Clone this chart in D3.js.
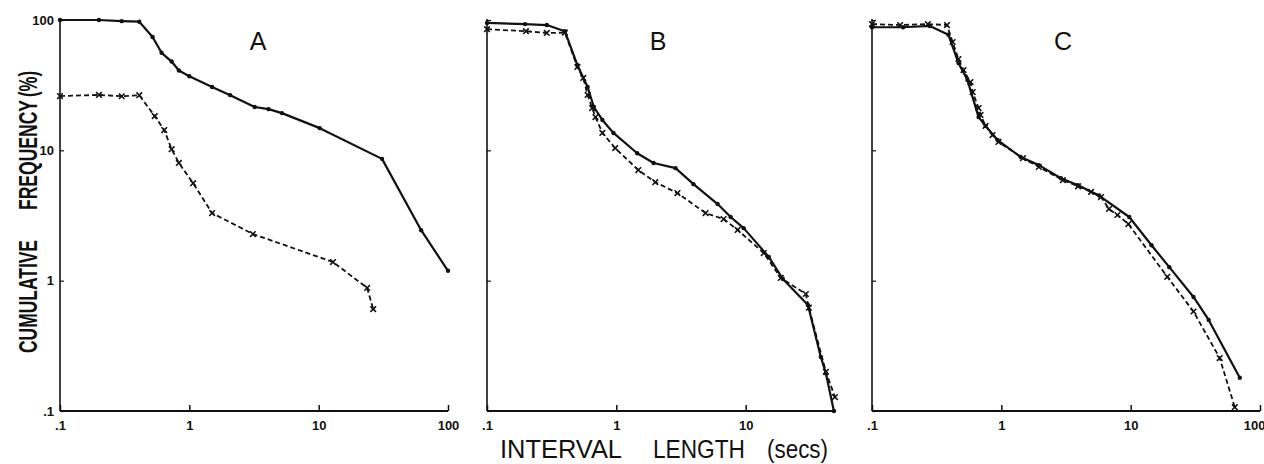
<!DOCTYPE html>
<html>
<head>
<meta charset="utf-8">
<script src="https://cdn.jsdelivr.net/npm/d3@7"></script>
<style>
  body { margin: 0; background: #fff; }
  svg { display: block; }
  text { font-family: "Liberation Sans", Arial, sans-serif; fill: #111; }
</style>
</head>
<body>
<svg id="chart" width="1264" height="464"></svg>
<script>
// ---- data (x: interval length in secs, y: cumulative frequency %) ----
const panelNames = ["A", "B", "C"];

const aSolidX = [0.1, 0.2, 0.3, 0.41, 0.52, 0.61, 0.73, 0.83, 1.0, 1.5, 2.07, 3.2, 4.1, 5.2, 10.2, 30.9, 62, 100];
const aSolidY = [100, 100, 98, 97, 74, 56, 48, 41, 37, 30.6, 26.5, 21.5, 20.7, 19.3, 14.8, 8.6, 2.44, 1.19];
const aDashX  = [0.1, 0.2, 0.3, 0.41, 0.54, 0.64, 0.73, 0.83, 1.07, 1.5, 3.1, 12.9, 23.7, 26.4];
const aDashY  = [26.1, 26.6, 26, 26.5, 18.3, 14.3, 10.2, 8.0, 5.6, 3.3, 2.28, 1.39, 0.88, 0.605];

const bSolidX = [0.1, 0.197, 0.29, 0.40, 0.50, 0.60, 0.67, 0.78, 0.95, 1.45, 1.94, 2.87, 3.95, 6.07, 7.65, 9.65, 15.1, 19.4, 30.3, 38.1, 41.7, 48.1];
const bSolidY = [95, 93, 91.5, 82, 45, 30.6, 21.5, 17.1, 13.6, 9.5, 8.0, 7.3, 5.5, 3.87, 3.08, 2.53, 1.52, 1.03, 0.65, 0.26, 0.195, 0.1];
const bDashX  = [0.1, 0.2, 0.29, 0.40, 0.50, 0.555, 0.6, 0.65, 0.69, 0.78, 0.98, 1.48, 2.0, 2.97, 4.9, 6.75, 8.67, 13.8, 18.7, 29.2, 30.8, 41.7, 49];
const bDashY  = [85, 82, 79.5, 80, 43.6, 35.9, 26.6, 21.1, 18, 13.6, 10.4, 7.06, 5.7, 4.7, 3.3, 2.97, 2.45, 1.63, 1.05, 0.79, 0.62, 0.2, 0.128];

const cSolidX = [0.1, 0.174, 0.28, 0.39, 0.466, 0.547, 0.667, 0.755, 0.936, 1.41, 1.95, 2.89, 3.92, 5.7, 9.75, 14.5, 19.9, 30.6, 40.1, 69.8];
const cSolidY = [88, 88, 90, 77, 46.8, 34.6, 18, 15.4, 12, 8.9, 7.7, 6.1, 5.4, 4.5, 3.08, 1.87, 1.27, 0.75, 0.5, 0.18];
const cDashX  = [0.1, 0.165, 0.27, 0.38, 0.42, 0.466, 0.51, 0.577, 0.6, 0.667, 0.69, 0.755, 0.855, 0.95, 1.47, 1.95, 2.99, 3.92, 4.94, 5.9, 6.8, 7.9, 9.6, 19.2, 30.6, 48.8, 63.8];
const cDashY  = [93, 91.5, 93, 91.5, 67.8, 50.2, 41.3, 33.4, 28, 21.1, 18.7, 15.4, 13.1, 11.6, 8.7, 7.45, 5.9, 5.3, 4.8, 4.38, 3.55, 3.19, 2.72, 1.07, 0.58, 0.255, 0.107];

const xTickValues = [[0.1, 1, 10, 100], [0.1, 1, 10], [0.1, 1, 10, 100]];
const xTickLabels = [".1", "1", "10", "100"];
const yTickValues = [0.1, 1, 10, 100];
const yTickLabels = [".1", "1", "10", "100"];
const xAxisEnd = [100, 50, 100];

const solidX = [aSolidX, bSolidX, cSolidX];
const solidY = [aSolidY, bSolidY, cSolidY];
const dashX = [aDashX, bDashX, cDashX];
const dashY = [aDashY, bDashY, cDashY];

// ---- layout ----
const svg = d3.select("#chart");
const panelLeft = [60, 487, 872];
const panelWidth = 388;
const yTop = 20, yBottom = 411;
const titleX = [258, 658, 1063];

const labelFor = (vals, labels) => v => labels[vals.indexOf(v)];

panelNames.forEach((name, i) => {
  const x = d3.scaleLog().domain([0.1, 100]).range([panelLeft[i], panelLeft[i] + panelWidth]);
  const y = d3.scaleLog().domain([0.1, 100]).range([yBottom, yTop]);
  const g = svg.append("g");

  // x axis
  const xAxis = d3.axisBottom(x)
    .tickValues(xTickValues[i])
    .tickFormat(labelFor([0.1, 1, 10, 100], xTickLabels))
    .tickSizeInner(-6).tickSizeOuter(0).tickPadding(10);
  const gx = g.append("g").attr("transform", `translate(0,${yBottom})`).call(xAxis);
  gx.select(".domain").remove();
  gx.selectAll(".tick line").attr("stroke", "#111").attr("stroke-width", 1.5);
  gx.selectAll(".tick text").attr("font-size", 13).attr("font-weight", "bold").attr("fill", "#111");
  // keep the right-most label of the last panel inside the page
  gx.selectAll(".tick text").filter(d => x(d) + 12 > 1264).attr("text-anchor", "end").attr("dx", 5);
  g.append("line")
    .attr("x1", x(0.1)).attr("x2", x(xAxisEnd[i]))
    .attr("y1", yBottom).attr("y2", yBottom)
    .attr("stroke", "#111").attr("stroke-width", 2);

  // y axis
  const yAxis = d3.axisLeft(y)
    .tickValues(yTickValues)
    .tickFormat(i === 0 ? labelFor(yTickValues, yTickLabels) : () => "")
    .tickSizeInner(-4).tickSizeOuter(0).tickPadding(6);
  const gy = g.append("g").attr("transform", `translate(${panelLeft[i]},0)`).call(yAxis);
  gy.select(".domain").remove();
  gy.selectAll(".tick line").attr("stroke", "#111").attr("stroke-width", 1.2);
  gy.selectAll(".tick text").attr("font-size", 13).attr("font-weight", "bold").attr("fill", "#111");
  g.append("line")
    .attr("x1", panelLeft[i]).attr("x2", panelLeft[i])
    .attr("y1", y(100) - (i === 0 ? 0 : 1)).attr("y2", yBottom)
    .attr("stroke", "#111").attr("stroke-width", 1.6);

  // lines
  const line = d3.line().x(d => x(d[0])).y(d => y(d[1]));
  const sData = d3.zip(solidX[i], solidY[i]);
  const dData = d3.zip(dashX[i], dashY[i]);

  g.append("path").datum(dData).attr("d", line)
    .attr("fill", "none").attr("stroke", "#111").attr("stroke-width", 1.8)
    .attr("stroke-dasharray", "5,3");
  g.append("path").datum(sData).attr("d", line)
    .attr("fill", "none").attr("stroke", "#111").attr("stroke-width", 2.2)
    .attr("stroke-linejoin", "round");

  // markers
  g.selectAll(".dot").data(sData).enter().append("circle")
    .attr("cx", d => x(d[0])).attr("cy", d => y(d[1])).attr("r", 2.2).attr("fill", "#111");
  const s = 2.8;
  g.selectAll(".xm").data(dData).enter().append("path")
    .attr("d", d => {
      const cx = x(d[0]), cy = y(d[1]);
      return `M${cx - s},${cy - s}L${cx + s},${cy + s}M${cx - s},${cy + s}L${cx + s},${cy - s}`;
    })
    .attr("stroke", "#111").attr("stroke-width", 1.6);

  // panel title
  g.append("text").attr("x", titleX[i]).attr("y", 50)
    .attr("text-anchor", "middle").attr("font-size", 25).text(name);
});

// axis titles
const yWords = [["CUMULATIVE", 353, 113], ["FREQUENCY", 210, 110], ["(%)", 97, 26]];
yWords.forEach(([w, yb, len]) => {
  svg.append("text")
    .attr("transform", `translate(37,${yb}) rotate(-90)`)
    .attr("font-size", 26).attr("font-weight", "bold")
    .attr("textLength", len).attr("lengthAdjust", "spacingAndGlyphs")
    .text(w);
});
const xWords = [["INTERVAL", 500, 122], ["LENGTH", 653, 92], ["(secs)", 767, 61]];
xWords.forEach(([w, xl, len]) => {
  svg.append("text")
    .attr("x", xl).attr("y", 458)
    .attr("font-size", 26)
    .attr("textLength", len).attr("lengthAdjust", "spacingAndGlyphs")
    .text(w);
});
</script>
</body>
</html>
